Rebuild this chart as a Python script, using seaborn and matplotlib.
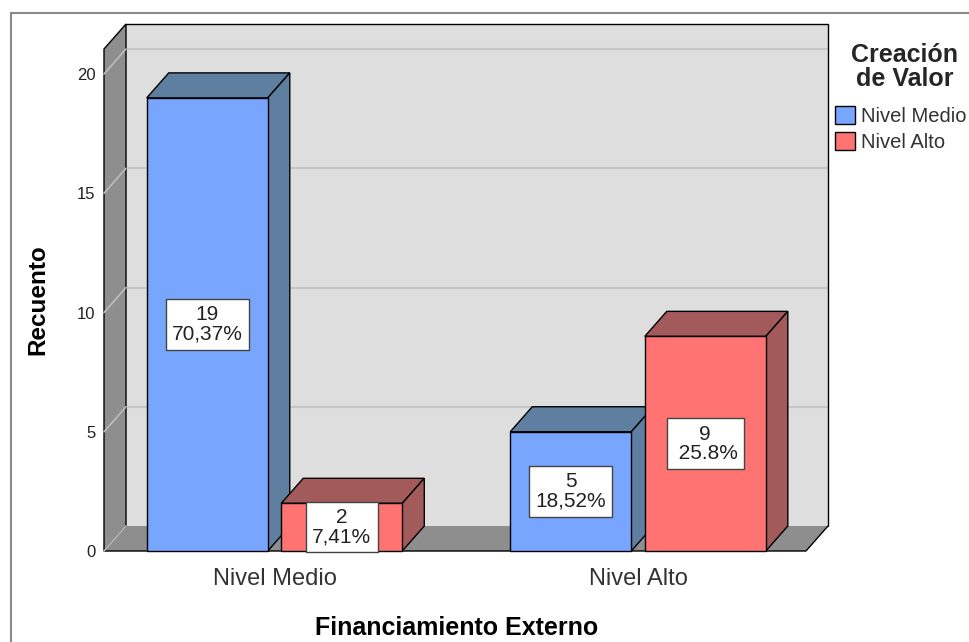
import matplotlib
matplotlib.use("Agg")
import matplotlib.pyplot as plt
from matplotlib.patches import Polygon, Rectangle, Patch
from matplotlib.lines import Line2D
import seaborn as sns
import pandas as pd
import numpy as np

# --- data -------------------------------------------------------------
categorias = ["Nivel Medio", "Nivel Alto"]          # Financiamiento Externo
grupos = ["Nivel Medio", "Nivel Alto"]              # Creación de Valor
recuento_medio = [19, 5]
recuento_alto = [2, 9]
etiquetas_medio = ["19\n70,37%", "5\n18,52%"]
etiquetas_alto = ["2\n7,41%", "9\n 25.8%"]
y_ticks = [0, 5, 10, 15, 20]

df = pd.DataFrame({
    "Financiamiento Externo": categorias * 2,
    "Creación de Valor": [grupos[0]] * 2 + [grupos[1]] * 2,
    "Recuento": recuento_medio + recuento_alto,
})
etiquetas = [etiquetas_medio, etiquetas_alto]

# --- style ------------------------------------------------------------
sns.set_theme(style="white")
plt.rcParams["font.family"] = ["Liberation Sans", "DejaVu Sans"]

frente = ["#78a6ff", "#ff7373"]
oscuro = ["#5f7fa1", "#a25a5a"]
pared, suelo = "#dedede", "#8e8e8e"
rejilla = "#c6c6c6"

DPI = 100
fig = plt.figure(figsize=(9.7, 6.42), dpi=DPI)
W, H = 970, 642
# front plane of the 3D box
ax = fig.add_axes([104 / W, 1 - 551 / H, 702 / W, 502 / H])

sns.barplot(data=df, x="Financiamiento Externo", y="Recuento",
            hue="Creación de Valor", hue_order=grupos, order=categorias,
            palette=frente, saturation=1, width=0.74, gap=0.1,
            edgecolor="black", linewidth=1.0, legend=False, ax=ax)

x0, x1 = -0.469, 1.462
ytop = 21.05
ax.set_xlim(x0, x1)
ax.set_ylim(0, ytop)
for s in ax.spines.values():
    s.set_visible(False)
ax.grid(False)
ax.set_facecolor("none")

# depth of the box, 22 px right and 25 px up, in data units
p0 = ax.transData.transform((0, 0))
ddx, ddy = ax.transData.inverted().transform(p0 + np.array([22.0, 25.0]))

def poly(pts, fc, ec="black", lw=1.0, z=0.5):
    ax.add_patch(Polygon(pts, closed=True, facecolor=fc, edgecolor=ec,
                         linewidth=lw, zorder=z, clip_on=False))

def line(xs, ys, c="black", lw=1.0, z=0.6):
    ax.add_line(Line2D(xs, ys, color=c, linewidth=lw, zorder=z, clip_on=False))

# back wall
poly([(x0 + ddx, ddy), (x1 + ddx, ddy), (x1 + ddx, ytop + ddy), (x0 + ddx, ytop + ddy)],
     pared, ec="none", z=0.1)
line([x0 + ddx, x1 + ddx, x1 + ddx], [ytop + ddy, ytop + ddy, ddy], z=0.15)
# gridlines on back wall
for v in y_ticks[1:]:
    line([x0 + ddx, x1 + ddx], [v + ddy, v + ddy], c=rejilla, lw=1.5, z=0.12)
# floor
poly([(x0, 0), (x1, 0), (x1 + ddx, ddy), (x0 + ddx, ddy)], suelo, ec="none", z=0.3)
line([x0, x1, x1 + ddx], [0, 0, ddy], z=0.35)
# left wall
poly([(x0, 0), (x0 + ddx, ddy), (x0 + ddx, ytop + ddy), (x0, ytop)], suelo, z=0.4)
for v in y_ticks:
    line([x0, x0 + ddx], [v, v + ddy], c="#bdbdbd", lw=1.2, z=0.45)

# bars come out of seaborn grouped by hue: [grupo0 cats..., grupo1 cats...]
ncat = len(categorias)
barras = []
for j in range(len(grupos)):
    for k in range(ncat):
        barras.append((ax.patches[j * ncat + k], j, etiquetas[j][k]))
barras.sort(key=lambda t: t[0].get_x())

# extrude each bar (top and side faces), left to right, then label it
for i, (p, j, texto) in enumerate(barras):
    bx, bw, bh = p.get_x(), p.get_width(), p.get_height()
    z = 1 + 2 * i
    poly([(bx, bh), (bx + bw, bh), (bx + bw + ddx, bh + ddy), (bx + ddx, bh + ddy)], oscuro[j], z=z)
    poly([(bx + bw, 0), (bx + bw + ddx, ddy), (bx + bw + ddx, bh + ddy), (bx + bw, bh)], oscuro[j], z=z)
    p.set_zorder(z + 1)
    p.set_clip_on(False)
    ax.text(bx + bw / 2, bh / 2, texto, ha="center", va="center", fontsize=15,
            linespacing=1.0, zorder=50, color="#222222",
            bbox=dict(boxstyle="square,pad=0.3", facecolor="white",
                      edgecolor="#444444", linewidth=1.0))

# axes text
ax.set_yticks(y_ticks)
ax.set_yticklabels([str(v) for v in y_ticks])
ax.tick_params(axis="y", length=0, pad=6, labelsize=12, colors="#222222")
ax.tick_params(axis="x", length=0, pad=12, labelsize=17, colors="#333333")
ax.set_xlabel("Financiamiento Externo", fontsize=18, fontweight="bold", color="black")
ax.set_ylabel("Recuento", fontsize=17.5, fontweight="bold", color="black")
ax.xaxis.set_label_coords((457 - 104) / 702, (551 - 628) / 502)
ax.xaxis.label.set_va("center")
ax.yaxis.set_label_coords((38 - 104) / 702, (551 - 300) / 502)
ax.yaxis.label.set_va("center")

# legend
handles = [Patch(facecolor=frente[0], edgecolor="black", linewidth=1.0),
           Patch(facecolor=frente[1], edgecolor="black", linewidth=1.0)]
leg = fig.legend(handles, grupos, loc="upper left", bbox_to_anchor=(835 / W, 1 - 106 / H),
                 frameon=False, fontsize=14.5, handlelength=1.0, handleheight=1.0,
                 handletextpad=0.3, labelspacing=0.3, borderpad=0, borderaxespad=0)
for t in leg.get_texts():
    t.set_color("#333333")
fig.text(905 / W, 1 - 67 / H, "Creación\nde Valor", ha="center", va="center",
         fontsize=18, fontweight="bold", linespacing=1.0, multialignment="center")

# outer frame
fig.add_artist(Rectangle((11 / W, -0.05), 1.1, 1 - 13 / H + 0.05, transform=fig.transFigure,
                         facecolor="none", edgecolor="#8a8a8a", linewidth=1.5))

fig.savefig("out.png", dpi=DPI)
